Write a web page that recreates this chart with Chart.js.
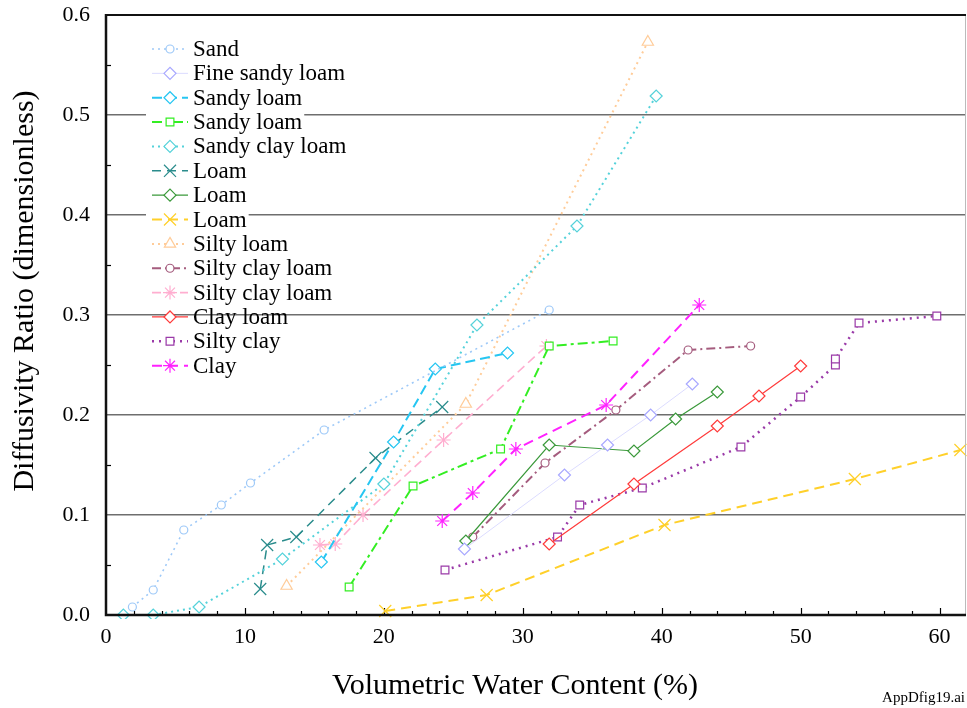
<!DOCTYPE html>
<html>
<head>
<meta charset="utf-8">
<script src="https://cdn.jsdelivr.net/npm/chart.js"></script>
<style>
  html, body { margin: 0; padding: 0; background: #fff; }
  #wrap { width: 967px; height: 708px; }
</style>
</head>
<body>
<div id="wrap"><canvas id="myChart" width="967" height="708"></canvas></div>
<script>
// series names, in legend order
const seriesNames = ['Sand', 'Fine sandy loam', 'Sandy loam', 'Sandy loam', 'Sandy clay loam',
  'Loam', 'Loam', 'Loam', 'Silty loam', 'Silty clay loam', 'Silty clay loam',
  'Clay loam', 'Silty clay', 'Clay'];

// [water content %, diffusivity ratio]
const sand = [[1.9, 0.008], [3.4, 0.025], [5.6, 0.085], [8.3, 0.11], [10.4, 0.132], [15.7, 0.185], [31.9, 0.305]];
const fineSandyLoam = [[25.8, 0.066], [33.0, 0.14], [36.1, 0.17], [39.2, 0.2], [42.2, 0.231]];
const sandyLoamA = [[15.5, 0.053], [20.7, 0.173], [23.7, 0.246], [28.9, 0.262]];
const sandyLoamB = [[17.5, 0.028], [22.1, 0.129], [28.4, 0.166], [31.9, 0.269], [36.5, 0.274]];
const sandyClayLoam = [[1.25, 0.0], [3.4, 0.0], [6.7, 0.008], [12.7, 0.056], [20.0, 0.131], [26.7, 0.29], [33.9, 0.389], [39.6, 0.519]];
const loamA = [[11.1, 0.026], [11.6, 0.07], [13.7, 0.078], [19.4, 0.157], [24.2, 0.208]];
const loamB = [[25.9, 0.074], [31.9, 0.17], [38.0, 0.164], [41.0, 0.196], [44.0, 0.223]];
const loamC = [[20.1, 0.004], [27.4, 0.02], [40.2, 0.09], [53.9, 0.136], [61.5, 0.165]];
const siltyLoam = [[13.0, 0.029], [25.9, 0.211], [39.0, 0.573]];
const siltyClayLoamA = [[26.4, 0.078], [31.6, 0.152], [36.7, 0.205], [41.9, 0.265], [46.4, 0.269]];
const siltyClayLoamB = [[15.4, 0.07], [16.5, 0.071], [18.5, 0.1], [24.3, 0.175], [31.7, 0.269]];
const clayLoam = [[31.9, 0.071], [38.0, 0.131], [44.0, 0.189], [47.0, 0.219], [50.0, 0.249]];
const siltyClay = [[24.4, 0.045], [32.5, 0.078], [34.1, 0.11], [38.6, 0.127], [45.7, 0.168], [50.0, 0.218],
  [52.5, 0.25], [52.5, 0.256], [54.2, 0.292], [59.8, 0.299]];
const clay = [[24.2, 0.094], [26.4, 0.122], [29.5, 0.166], [36.0, 0.21], [42.7, 0.31]];

const xTicks = [0, 10, 20, 30, 40, 50, 60];
const yTicks = [0.0, 0.1, 0.2, 0.3, 0.4, 0.5, 0.6];

const serif = '"Liberation Serif", "Times New Roman", serif';

function mk(i, pts, color, dash, width, style, radius, pointColor, noBox) {
  return {
    label: seriesNames[i],
    data: pts.map(p => ({ x: p[0], y: p[1] })),
    showLine: true,
    borderColor: color,
    borderWidth: width,
    borderDash: dash,
    pointStyle: style,
    pointRadius: radius,
    pointBorderColor: pointColor || color,
    pointBackgroundColor: '#fff',
    pointBorderWidth: 1.2,
    clip: 4,
    noBox: !!noBox
  };
}

const datasets = [
  mk(0, sand, '#9ec9f8', [2, 4], 1.6, 'circle', 4),
  mk(1, fineSandyLoam, '#dcdcff', [], 1, 'rectRot', 6, '#a8a8ff'),
  mk(2, sandyLoamA, '#26c6f2', [10, 5], 2, 'rectRot', 6),
  mk(3, sandyLoamB, '#33ee22', [10, 4, 3, 4], 2, 'rect', 5.5),
  mk(4, sandyClayLoam, '#55d2da', [2, 4], 2, 'rectRot', 6),
  mk(5, loamA, '#2a8c8c', [9, 6], 1.5, 'crossRot', 8.5),
  mk(6, loamB, '#3a993a', [], 1.2, 'rectRot', 6),
  mk(7, loamC, '#ffd02a', [10, 6], 2, 'crossRot', 8.5),
  mk(8, siltyLoam, '#ffcc99', [2, 4], 2, 'triangle', 6.5),
  mk(9, siltyClayLoamA, '#a55c7e', [9, 4, 2, 4], 2, 'circle', 4),
  mk(10, siltyClayLoamB, '#ffaed0', [9, 5], 1.6, 'star', 7),
  mk(11, clayLoam, '#ff3a3a', [], 1.2, 'rectRot', 6, null, true),
  mk(12, siltyClay, '#9a3aa8', [2, 5], 2.5, 'rect', 5.5),
  mk(13, clay, '#ff22ff', [10, 6], 2, 'star', 7)
];

function drawMarker(ctx, ds, x, y) {
  ctx.save();
  ctx.setLineDash([]);
  ctx.strokeStyle = ds.pointBorderColor;
  ctx.fillStyle = ds.pointBackgroundColor;
  ctx.lineWidth = ds.pointBorderWidth;
  Chart.helpers.drawPoint(ctx, { pointStyle: ds.pointStyle, radius: ds.pointRadius, rotation: 0, borderWidth: ds.pointBorderWidth }, x, y);
  ctx.restore();
}

const decorPlugin = {
  id: 'decor',
  beforeDatasetsDraw(chart) {
    const { ctx, chartArea: a, scales: { x, y } } = chart;
    ctx.save();
    ctx.strokeStyle = '#000';
    ctx.lineWidth = 1.2;
    // inner y ticks
    for (let v = 0.05; v < 0.6; v += 0.1) {
      const py = Math.round(y.getPixelForValue(v)) + 0.5;
      ctx.beginPath(); ctx.moveTo(a.left, py); ctx.lineTo(a.left + 5, py); ctx.stroke();
    }
    // inner x ticks
    for (let v = 2; v <= 60; v += 2) {
      const px = Math.round(x.getPixelForValue(v)) + 0.5;
      const len = v % 10 === 0 ? 7 : 4;
      ctx.beginPath(); ctx.moveTo(px, a.bottom); ctx.lineTo(px, a.bottom - len); ctx.stroke();
    }
    ctx.restore();
  },
  afterDatasetsDraw(chart) {
    const { ctx, chartArea: a } = chart;
    ctx.save();
    // frame
    ctx.strokeStyle = '#bbb';
    ctx.lineWidth = 1;
    ctx.beginPath(); ctx.moveTo(a.right - 0.5, a.top); ctx.lineTo(a.right - 0.5, a.bottom); ctx.stroke();
    ctx.strokeStyle = '#111';
    ctx.lineWidth = 2;
    ctx.beginPath(); ctx.moveTo(a.left, a.top); ctx.lineTo(a.right, a.top); ctx.stroke();
    ctx.lineWidth = 2.5;
    ctx.beginPath(); ctx.moveTo(a.left, a.top - 1); ctx.lineTo(a.left, a.bottom); ctx.lineTo(a.right, a.bottom); ctx.stroke();

    // legend
    ctx.font = '23px ' + serif;
    ctx.textBaseline = 'middle';
    ctx.textAlign = 'left';
    chart.data.datasets.forEach((ds, i) => {
      const ry = a.top + 34 + i * 24.36;
      const x0 = a.left + 46, x1 = a.left + 82, tx = a.left + 87;
      const tw = ctx.measureText(ds.label).width;
      if (!ds.noBox) {
        ctx.fillStyle = '#fff';
        ctx.fillRect(a.left + 40, ry - 11, tx - (a.left + 40) + tw + 2, 22);
      }
      ctx.save();
      ctx.strokeStyle = ds.borderColor;
      ctx.lineWidth = ds.borderWidth;
      ctx.setLineDash(ds.borderDash);
      ctx.beginPath(); ctx.moveTo(x0, ry); ctx.lineTo(x1, ry); ctx.stroke();
      ctx.restore();
      drawMarker(ctx, ds, (x0 + x1) / 2, ry);
      ctx.fillStyle = '#000';
      ctx.fillText(ds.label, tx, ry + 1);
    });

    // axis titles
    ctx.fillStyle = '#000';
    ctx.font = '30px ' + serif;
    ctx.textAlign = 'center';
    ctx.textBaseline = 'middle';
    ctx.fillText('Volumetric Water Content (%)', 515, 686);
    ctx.save();
    ctx.translate(25, 291);
    ctx.rotate(-Math.PI / 2);
    ctx.fillText('Diffusivity Ratio (dimensionless)', 0, 0);
    ctx.restore();
    ctx.font = '15px ' + serif;
    ctx.textAlign = 'right';
    ctx.fillText('AppDfig19.ai', 965, 698);
    ctx.restore();
  }
};

const config = {
  type: 'scatter',
  data: { datasets: datasets },
  options: {
    responsive: false,
    animation: false,
    layout: { autoPadding: false, padding: { top: 15, right: 1, left: 0, bottom: 0 } },
    plugins: { legend: { display: false }, tooltip: { enabled: false } },
    scales: {
      x: {
        type: 'linear',
        min: 0,
        max: 61.9,
        afterBuildTicks: s => { s.ticks = xTicks.map(v => ({ value: v })); },
        afterFit: s => { s.height = 93; s.paddingLeft = 0; s.paddingRight = 0; },
        ticks: { color: '#000', font: { family: serif, size: 22 }, padding: 9, maxRotation: 0 },
        grid: { display: false, drawTicks: false },
        border: { display: false }
      },
      y: {
        min: 0,
        max: 0.6,
        afterBuildTicks: s => { s.ticks = yTicks.map(v => ({ value: v })); },
        afterFit: s => { s.width = 106; s.paddingTop = 0; s.paddingBottom = 0; },
        ticks: { color: '#000', font: { family: serif, size: 22 }, padding: 16, callback: v => v.toFixed(1) },
        grid: {
          drawTicks: false,
          lineWidth: 1.5,
          color: c => (c.tick && (c.tick.value <= 0.001 || c.tick.value >= 0.599)) ? 'rgba(0,0,0,0)' : '#6e6e6e'
        },
        border: { display: false }
      }
    }
  },
  plugins: [decorPlugin]
};

const myChart = new Chart(document.getElementById('myChart'), config);
</script>
</body>
</html>
